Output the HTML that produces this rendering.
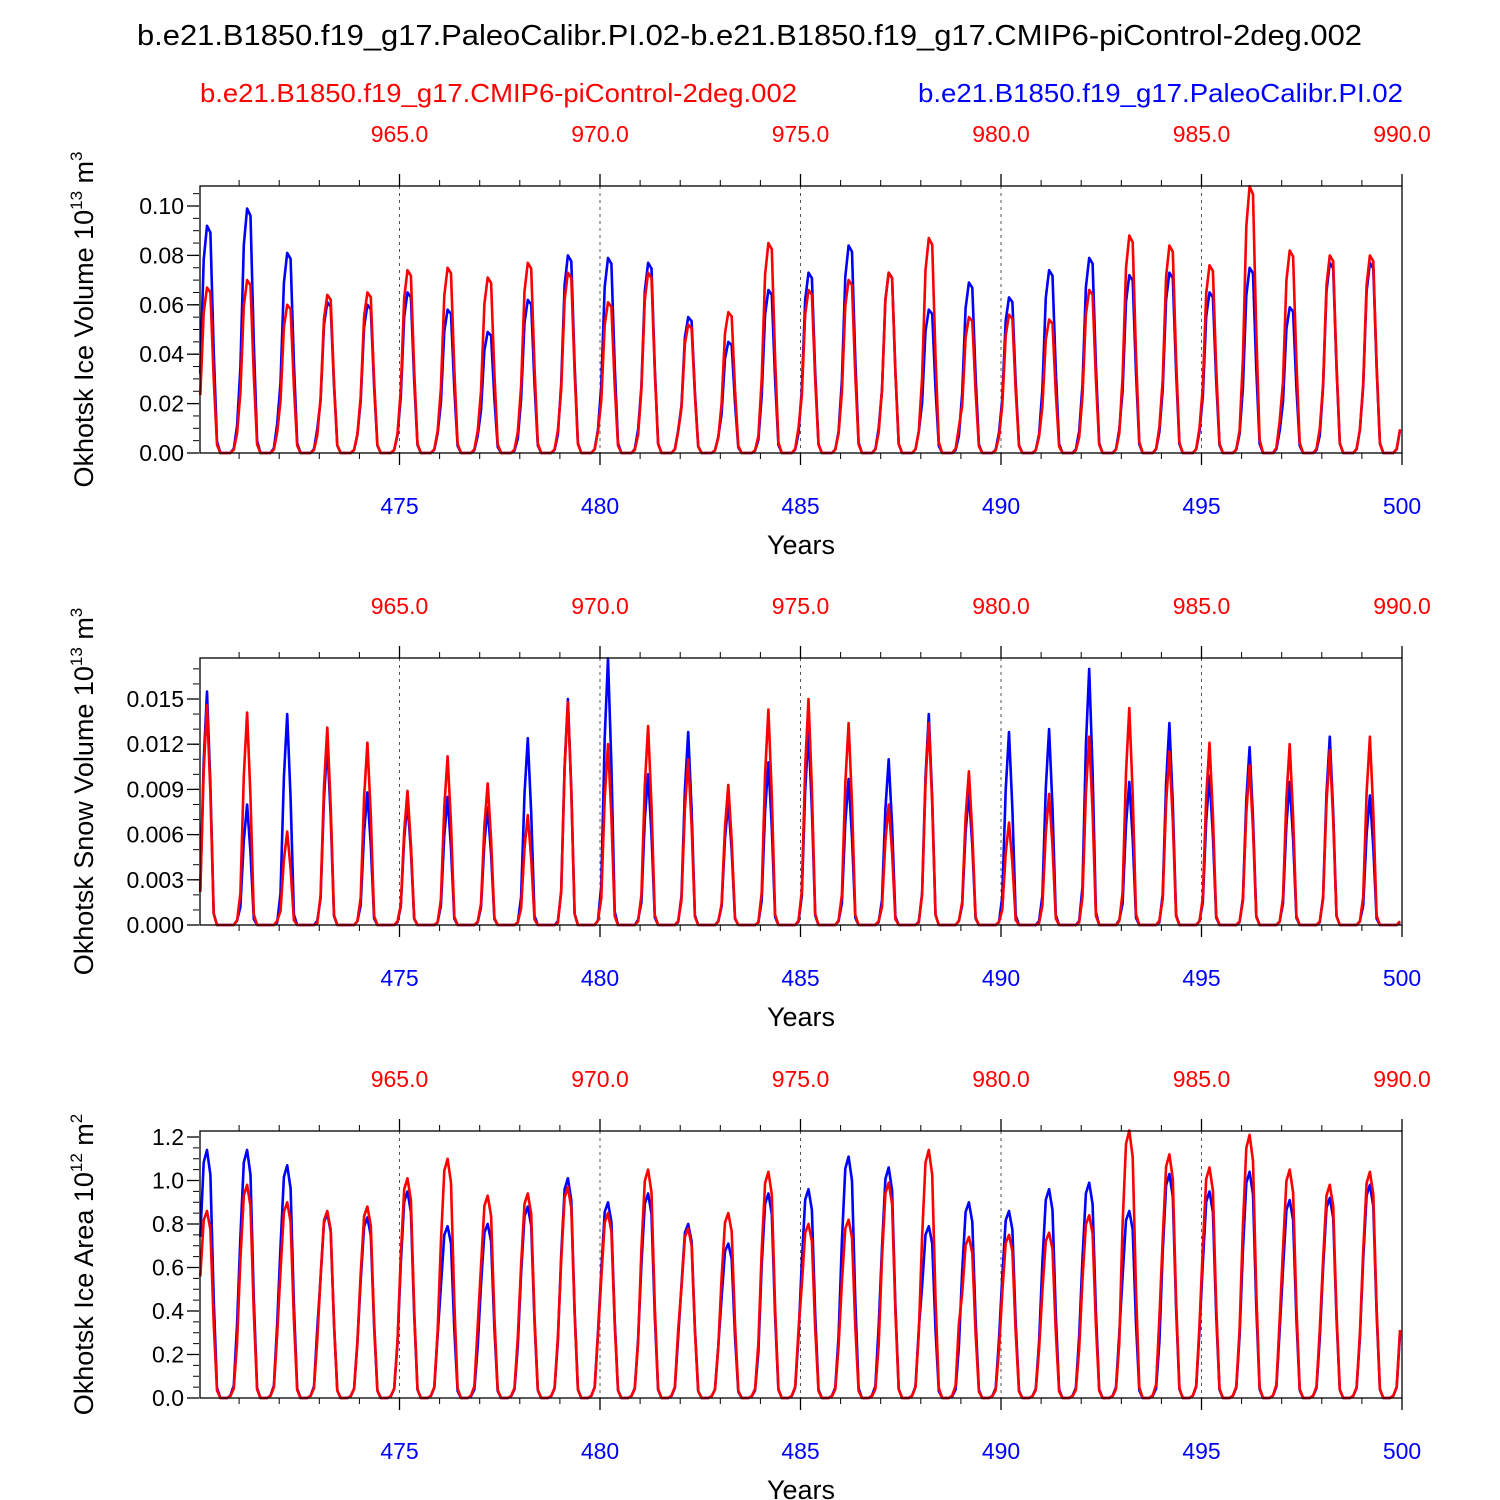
<!DOCTYPE html>
<html><head><meta charset="utf-8"><style>
html,body{margin:0;padding:0;background:#fff}
svg{display:block;font-family:"Liberation Sans",sans-serif}
</style></head><body>
<svg id="chart" width="1500" height="1500" viewBox="0 0 1500 1500" xmlns="http://www.w3.org/2000/svg">
<text x="137" y="45" font-size="29" textLength="1225" lengthAdjust="spacingAndGlyphs">b.e21.B1850.f19_g17.PaleoCalibr.PI.02-b.e21.B1850.f19_g17.CMIP6-piControl-2deg.002</text>
<text x="200" y="102" font-size="26" fill="#f00" textLength="597" lengthAdjust="spacingAndGlyphs">b.e21.B1850.f19_g17.CMIP6-piControl-2deg.002</text>
<text x="918" y="102" font-size="26" fill="#00f" textLength="485" lengthAdjust="spacingAndGlyphs">b.e21.B1850.f19_g17.PaleoCalibr.PI.02</text>
</svg>
<script>
const years = [470,471,472,473,474,475,476,477,478,479,480,481,482,483,484,485,486,487,488,489,490,491,492,493,494,495,496,497,498,499];
const iceVolBlue = [0.092,0.099,0.081,0.061,0.060,0.065,0.058,0.049,0.062,0.080,0.079,0.077,0.055,0.045,0.066,0.073,0.084,0.073,0.058,0.069,0.063,0.074,0.079,0.072,0.073,0.065,0.075,0.059,0.077,0.077];
const iceVolRed = [0.067,0.070,0.060,0.064,0.065,0.074,0.075,0.071,0.077,0.073,0.061,0.073,0.052,0.057,0.085,0.066,0.070,0.073,0.087,0.055,0.056,0.054,0.066,0.088,0.084,0.076,0.108,0.082,0.080,0.080];
const snowBlue = [0.0155,0.0080,0.0140,0.0120,0.0088,0.0082,0.0085,0.0078,0.0124,0.0150,0.0177,0.0100,0.0128,0.0082,0.0108,0.0128,0.0097,0.0110,0.0140,0.0088,0.0128,0.0130,0.0170,0.0095,0.0134,0.0099,0.0118,0.0095,0.0125,0.0086];
const snowRed = [0.0146,0.0141,0.0062,0.0131,0.0121,0.0089,0.0112,0.0094,0.0073,0.0148,0.0120,0.0132,0.0110,0.0093,0.0143,0.0150,0.0134,0.0080,0.0134,0.0102,0.0068,0.0087,0.0125,0.0144,0.0115,0.0121,0.0106,0.0120,0.0116,0.0125];
const areaBlue = [1.14,1.14,1.07,0.85,0.83,0.95,0.79,0.80,0.88,1.01,0.90,0.94,0.80,0.71,0.94,0.96,1.11,1.06,0.79,0.90,0.86,0.96,0.99,0.86,1.03,0.95,1.04,0.91,0.92,0.98];
const areaRed = [0.86,0.98,0.90,0.86,0.88,1.01,1.10,0.93,0.94,0.97,0.85,1.05,0.78,0.85,1.04,0.80,0.82,0.99,1.14,0.74,0.75,0.76,0.84,1.23,1.12,1.06,1.21,1.05,0.98,1.04];
const shapeVol = [0.35,0.85,1.0,0.97,0.45,0.05,0,0,0,0,0.02,0.12];
const shapeSnow = [0.15,0.7,1.0,0.6,0.05,0,0,0,0,0,0,0.02];
const shapeArea = [0.65,0.95,1.0,0.9,0.4,0.04,0,0,0,0.01,0.05,0.3];
const bottomTicks = [475,480,485,490,495,500];
const topTicks = ["965.0","970.0","975.0","980.0","985.0","990.0"];
const volTicks = [0,0.02,0.04,0.06,0.08,0.10];
const snowTicks = [0,0.003,0.006,0.009,0.012,0.015];
const areaTicks = [0,0.2,0.4,0.6,0.8,1.0,1.2];

const svg = document.getElementById('chart');
const NS = 'http://www.w3.org/2000/svg';
function mk(tag, attrs, parent){const e=document.createElementNS(NS,tag);for(const k in attrs)e.setAttribute(k,attrs[k]);(parent||svg).appendChild(e);return e;}
const X0=199, X1=1402;
function xs(v){return X0+(v-470)/30*(X1-X0);}

function panel(name, top, zeroY, yTop, yMax, ticks, dec, minorStep, blue, red, shape, titleHTML){
  const g = mk('g',{});
  
  
  function ys(v){return zeroY-(v/yMax)*(zeroY-yTop);}
  const boxTop=top;
  const vmaxBox=(zeroY-boxTop)/(zeroY-yTop)*yMax;
  bottomTicks.slice(0,5).forEach(t=>{
    const l=mk('line',{x1:xs(t),x2:xs(t),y1:boxTop,y2:zeroY,stroke:'#555','stroke-width':1,'stroke-dasharray':'3,4'},g);
    
    
  });
  [[blue,'#00f','blue'],[red,'#f00','red']].forEach(([arr,col,nm])=>{
    let pts=[];
    years.forEach((y,i)=>{shape.forEach((s,m)=>{pts.push(xs(y+(m+0.4)/12).toFixed(1)+','+ys(arr[i]*s).toFixed(1));});});
    const p=mk('polyline',{points:pts.join(' '),fill:'none',stroke:col,'stroke-width':2.6,'stroke-linejoin':'round'},g);
    
    
  });
  const r=mk('rect',{x:X0+1,y:boxTop,width:X1-X0-1,height:zeroY-boxTop,fill:'none',stroke:'#000','stroke-width':1.3},g);
  
  
  ticks.forEach(t=>{
    mk('line',{x1:X0-12,x2:X0,y1:ys(t),y2:ys(t),stroke:'#000','stroke-width':1.3},g);
    const tx=mk('text',{x:X0-15,y:ys(t)+8,'font-size':23,'text-anchor':'end'},g);
    tx.textContent=t.toFixed(dec);
    
    
  });
  for(let v=0;v<=vmaxBox+1e-9;v+=minorStep){mk('line',{x1:X0-6,x2:X0,y1:ys(v),y2:ys(v),stroke:'#000','stroke-width':1},g);}
  bottomTicks.forEach(t=>{
    mk('line',{x1:xs(t),x2:xs(t),y1:zeroY,y2:zeroY+12,stroke:'#000','stroke-width':1.3},g);
    const tx=mk('text',{x:xs(t),y:zeroY+61,'font-size':23,'text-anchor':'middle',fill:'#00f'},g);
    tx.textContent=t;
    
    
  });
  for(let y=471;y<=500;y++){mk('line',{x1:xs(y),x2:xs(y),y1:zeroY,y2:zeroY+6,stroke:'#000','stroke-width':1},g);mk('line',{x1:xs(y),x2:xs(y),y1:boxTop,y2:boxTop-6,stroke:'#000','stroke-width':1},g);}
  topTicks.forEach((t,i)=>{
    const xv=xs(bottomTicks[i]);
    mk('line',{x1:xv,x2:xv,y1:boxTop,y2:boxTop-12,stroke:'#000','stroke-width':1.3},g);
    const tx=mk('text',{x:xv,y:boxTop-44,'font-size':23,'text-anchor':'middle',fill:'#f00'},g);
    tx.textContent=t;
    
    
  });
  const xt=mk('text',{x:801,y:zeroY+101,'font-size':27,'text-anchor':'middle'},g);
  xt.textContent='Years';
  
  
  const cy=(boxTop+zeroY)/2;
  const yt=mk('text',{x:0,y:0,'font-size':27,'text-anchor':'middle',transform:`translate(93,${cy}) rotate(-90)`},g);
  yt.innerHTML=titleHTML;
  
  
}
panel('ice-volume',186,453,206,0.10,volTicks,2,0.005,iceVolBlue,iceVolRed,shapeVol,'Okhotsk Ice Volume 10<tspan font-size="17" dy="-11">13</tspan><tspan dy="11"> m</tspan><tspan font-size="17" dy="-11">3</tspan>');
panel('snow-volume',658,925,699,0.015,snowTicks,3,0.001,snowBlue,snowRed,shapeSnow,'Okhotsk Snow Volume 10<tspan font-size="17" dy="-11">13</tspan><tspan dy="11"> m</tspan><tspan font-size="17" dy="-11">3</tspan>');
panel('ice-area',1131,1398,1137,1.2,areaTicks,1,0.05,areaBlue,areaRed,shapeArea,'Okhotsk Ice Area 10<tspan font-size="17" dy="-11">12</tspan><tspan dy="11"> m</tspan><tspan font-size="17" dy="-11">2</tspan>');
</script>
</body></html>
